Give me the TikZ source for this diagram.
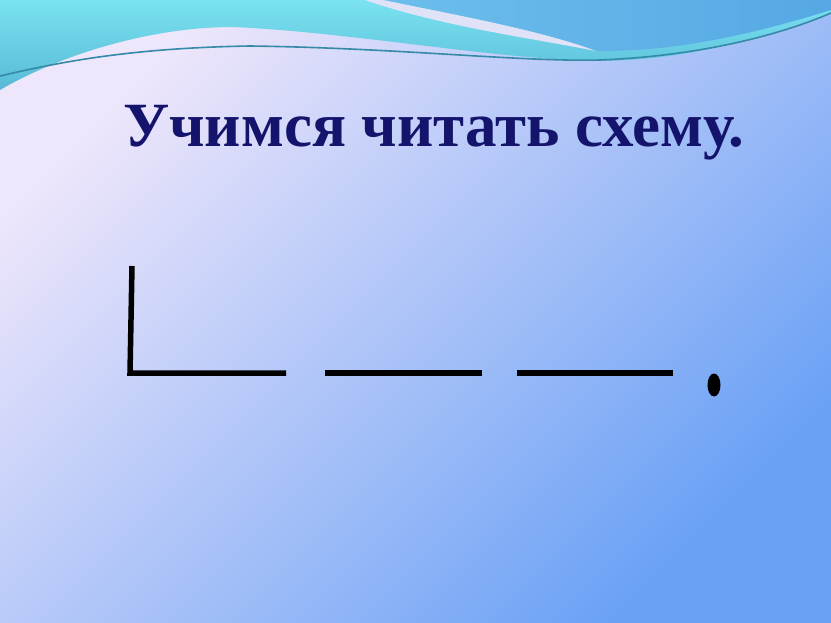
\documentclass[tikz,border=0pt]{standalone}
\usepackage{fontspec}
\setmainfont{Liberation Serif}
\definecolor{slideLight}{RGB}{238,230,251}
\definecolor{slideBlue}{RGB}{106,161,245}
\definecolor{waveCyan}{RGB}{122,226,240}
\definecolor{waveCyanDark}{RGB}{88,186,214}
\definecolor{waveBlueLight}{RGB}{108,190,236}
\definecolor{waveBlue}{RGB}{86,168,228}
\definecolor{waveStripe}{RGB}{224,226,247}
\definecolor{waveLine}{RGB}{52,138,168}
\definecolor{titleNavy}{RGB}{20,20,108}

\begin{document}
\begin{tikzpicture}[x=1pt,y=-1pt,
    schemeline/.style={line width=5.5pt, black}]
        \useasboundingbox (0,0) rectangle (831,623);
        % background
        \shade[top color=slideLight, bottom color=slideBlue, shading angle=45] (0,0) rectangle (831,623);

        % waves
        \shade[top color=waveCyan, bottom color=waveCyanDark] (0,0) -- (831,0) -- (831,13)
            .. controls (760,38) and (690,60) .. (600,61)
            .. controls (500,60) and (350,32) .. (233,27)
            .. controls (150,27) and (60,55) .. (0,90) -- cycle;
        \shade[left color=waveBlueLight, right color=waveBlue] (383,0) -- (831,0) -- (831,10)
            .. controls (760,32) and (680,52) .. (596,51)
            .. controls (540,30) and (450,14) .. (383,0) -- cycle;
        \fill[waveStripe] (365,0) -- (383,0)
            .. controls (450,14) and (540,30) .. (596,51)
            .. controls (530,38) and (440,26) .. (365,0) -- cycle;
        \draw[waveLine, line width=1.6pt] (0,76)
            .. controls (60,62) and (130,48) .. (250,46)
            .. controls (400,48) and (520,62) .. (600,60)
            .. controls (700,56) and (780,35) .. (831,13);

        % title
        \node (title) [anchor=base west, text=titleNavy, inner sep=0pt,
            font=\fontsize{63}{70}\selectfont\bfseries] at (123,147) {Учимся читать схему.};

        % scheme of the sentence
        \draw[schemeline] (132,266) -- (130,373) -- (286,373);
        \draw[schemeline] (325,373) -- (482,373);
        \draw[schemeline] (517,373) -- (673,373);
        \fill (714,385) ellipse (6.5pt and 11.5pt);

    \end{tikzpicture}
\end{document}
